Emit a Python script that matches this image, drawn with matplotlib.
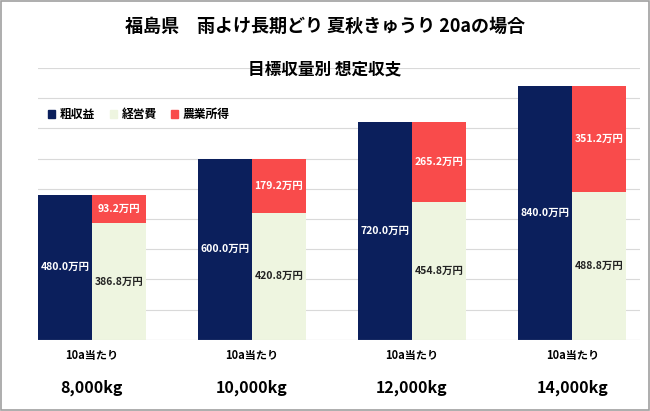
import matplotlib
matplotlib.use("Agg")
import matplotlib.pyplot as plt
from matplotlib.patches import Rectangle, Patch

plt.rcParams['font.family'] = ['Noto Sans CJK JP', 'DejaVu Sans']

categories = ["8,000kg", "10,000kg", "12,000kg", "14,000kg"]
sub_label = "10a当たり"
revenue = [480.0, 600.0, 720.0, 840.0]
cost = [386.8, 420.8, 454.8, 488.8]
income = [93.2, 179.2, 265.2, 351.2]
legend_names = ["粗収益", "経営費", "農業所得"]

navy = "#0b1f5c"
green = "#eef5e0"
red = "#f94b4b"

fig = plt.figure(figsize=(6.5, 4.11), dpi=100)
fig.patches.append(Rectangle((0.002, 0.002), 0.996, 0.996, transform=fig.transFigure,
                             fill=False, edgecolor="#a0a0a0", lw=1.2))
ax = fig.add_axes([0.058, 0.173, 0.927, 0.662])
w = 0.3375
x = list(range(len(categories)))
xl = [i - w / 2 for i in x]
xr = [i + w / 2 for i in x]
ax.bar(xl, revenue, w, color=navy, zorder=2)
ax.bar(xr, cost, w, color=green, zorder=2)
ax.bar(xr, income, w, bottom=cost, color=red, zorder=2)
for i in x:
    ax.text(xl[i], revenue[i] / 2, f"{revenue[i]:.1f}万円", ha="center", va="center",
            color="white", fontsize=7.5, fontweight="bold", zorder=3)
    ax.text(xr[i], cost[i] / 2, f"{cost[i]:.1f}万円", ha="center", va="center",
            color="#222222", fontsize=7.5, fontweight="bold", zorder=3)
    ax.text(xr[i], cost[i] + income[i] / 2, f"{income[i]:.1f}万円", ha="center", va="center",
            color="white", fontsize=7.5, fontweight="bold", zorder=3)
    ax.text(i, -50, sub_label, ha="center", va="center", fontsize=8, fontweight="bold")
    ax.text(i, -160, categories[i], ha="center", va="center", fontsize=11.5, fontweight="bold")
ax.set_xlim(-0.3375, 3.425)
ax.set_ylim(0, 900)
ax.set_yticks(range(0, 901, 100))
ax.grid(axis="y", color="#d9d9d9", lw=0.8, zorder=0)
ax.tick_params(left=False, bottom=False, labelleft=False, labelbottom=False)
for s in ax.spines.values():
    s.set_visible(False)
ax.axhline(0, color="#d9d9d9", lw=0.8)

handles = [Patch(color=c) for c in (navy, green, red)]
ax.legend(handles, legend_names, loc="upper left", bbox_to_anchor=(0.0, 0.89), ncol=3,
          frameon=False, handlelength=0.6, handleheight=0.6, columnspacing=1.2,
          handletextpad=0.4, prop={'size': 8.5, 'weight': 'bold'})

fig.text(0.5, 0.935, "福島県　雨よけ長期どり 夏秋きゅうり 20aの場合", ha="center", va="center",
         fontsize=13, fontweight="bold")
fig.text(0.5, 0.83, "目標収量別 想定収支", ha="center", va="center",
         fontsize=12, fontweight="bold")
fig.savefig("out.png", dpi=100)
